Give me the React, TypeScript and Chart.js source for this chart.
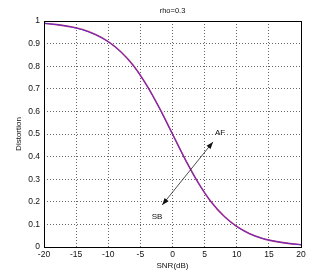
import { useEffect, useRef } from "react";
import { Chart, registerables } from "chart.js";

Chart.register(...registerables);

const titleText = "rho=0.3";
const xTitle = "SNR(dB)";
const yTitle = "Distortion";

const snrDb = [-20, -18, -16, -14, -12, -10, -8, -6, -4, -2, 0, 2, 4, 6, 8, 10, 12, 14, 16, 18, 20];
const distortionAF = [0.99, 0.984, 0.975, 0.962, 0.94, 0.909, 0.863, 0.8, 0.715, 0.613, 0.5, 0.387, 0.285, 0.2, 0.137, 0.091, 0.059, 0.038, 0.025, 0.016, 0.01];
const distortionSB = [0.99, 0.984, 0.975, 0.961, 0.94, 0.908, 0.862, 0.799, 0.714, 0.612, 0.499, 0.386, 0.284, 0.2, 0.136, 0.09, 0.059, 0.038, 0.025, 0.016, 0.01];

const xTicks = [-20, -15, -10, -5, 0, 5, 10, 15, 20];
const yTicks = [0, 0.1, 0.2, 0.3, 0.4, 0.5, 0.6, 0.7, 0.8, 0.9, 1];

// annotation arrow (data coords) and labels
const arrowFrom = [-1.6, 0.186];
const arrowTo = [6.3, 0.465];
const labelAF = { text: "AF", x: 7.4, y: 0.505 };
const labelSB = { text: "SB", x: -2.4, y: 0.135 };

const FONT = "'Liberation Sans', Arial, sans-serif";

function drawHead(ctx: CanvasRenderingContext2D, x1: number, y1: number, x2: number, y2: number) {
  const ang = Math.atan2(y2 - y1, x2 - x1);
  const len = 7;
  const w = 2.6;
  ctx.beginPath();
  ctx.moveTo(x2, y2);
  ctx.lineTo(x2 - len * Math.cos(ang) + w * Math.sin(ang), y2 - len * Math.sin(ang) - w * Math.cos(ang));
  ctx.lineTo(x2 - len * Math.cos(ang) - w * Math.sin(ang), y2 - len * Math.sin(ang) + w * Math.cos(ang));
  ctx.closePath();
  ctx.fill();
}

const overlay = {
  id: "overlay",
  afterDraw(chart: any) {
    const { ctx, chartArea: a, scales } = chart;
    const xs = scales.x;
    const ys = scales.y;
    ctx.save();
    // box
    ctx.strokeStyle = "#000";
    ctx.lineWidth = 1;
    ctx.setLineDash([]);
    ctx.strokeRect(Math.round(a.left) + 0.5, Math.round(a.top) + 0.5, Math.round(a.width), Math.round(a.height));
    // arrow
    const x1 = xs.getPixelForValue(arrowFrom[0]);
    const y1 = ys.getPixelForValue(arrowFrom[1]);
    const x2 = xs.getPixelForValue(arrowTo[0]);
    const y2 = ys.getPixelForValue(arrowTo[1]);
    ctx.strokeStyle = "#222";
    ctx.fillStyle = "#111";
    ctx.lineWidth = 0.8;
    ctx.beginPath();
    ctx.moveTo(x1, y1);
    ctx.lineTo(x2, y2);
    ctx.stroke();
    drawHead(ctx, x1, y1, x2, y2);
    drawHead(ctx, x2, y2, x1, y1);
    // labels
    ctx.fillStyle = "#111";
    ctx.font = `8px ${FONT}`;
    ctx.textAlign = "center";
    ctx.textBaseline = "middle";
    for (const l of [labelAF, labelSB]) {
      ctx.fillText(l.text, xs.getPixelForValue(l.x), ys.getPixelForValue(l.y));
    }
    // title
    ctx.font = `7.5px ${FONT}`;
    ctx.fillText(titleText, (a.left + a.right) / 2, 11);
    // axis titles
    ctx.font = `8px ${FONT}`;
    ctx.fillText(xTitle, (a.left + a.right) / 2, 266);
    ctx.save();
    ctx.translate(19, (a.top + a.bottom) / 2);
    ctx.rotate(-Math.PI / 2);
    ctx.fillText(yTitle, 0, 0);
    ctx.restore();
    ctx.restore();
  },
};

export default function App() {
  const ref = useRef<HTMLCanvasElement>(null);
  useEffect(() => {
    document.body.style.margin = "0";
    const chart = new Chart(ref.current!, {
      type: "line",
      data: {
        datasets: [
          {
            label: "AF",
            data: snrDb.map((x, i) => ({ x, y: distortionAF[i] })),
            borderColor: "#d0306a",
            borderWidth: 1.6,
            pointRadius: 0,
            cubicInterpolationMode: "monotone",
            order: 2,
          },
          {
            label: "SB",
            data: snrDb.map((x, i) => ({ x, y: distortionSB[i] })),
            borderColor: "#5a2fc8",
            borderWidth: 1,
            pointRadius: 0,
            cubicInterpolationMode: "monotone",
            order: 1,
          },
        ],
      },
      options: {
        animation: false,
        responsive: false,
        devicePixelRatio: 1,
        layout: { padding: { left: 0, right: 31, top: 21, bottom: 0 } },
        plugins: { legend: { display: false }, title: { display: false }, tooltip: { enabled: false } },
        scales: {
          x: {
            type: "linear",
            min: -20,
            max: 20,
            afterBuildTicks: (s: any) => {
              s.ticks = xTicks.map((v) => ({ value: v }));
            },
            afterFit: (s: any) => {
              s.height = 30;
            },
            ticks: {
              color: "#111",
              font: { family: FONT, size: 8.5 },
              padding: 3,
              maxRotation: 0,
              autoSkip: false,
              callback: (v: any) => String(v),
            },
            grid: { color: "#666", drawTicks: false, lineWidth: 1 },
            border: { display: false, dash: [1, 2] },
          },
          y: {
            type: "linear",
            min: 0,
            max: 1,
            afterBuildTicks: (s: any) => {
              s.ticks = yTicks.map((v) => ({ value: v }));
            },
            afterFit: (s: any) => {
              s.width = 44;
            },
            ticks: {
              color: "#111",
              font: { family: FONT, size: 8.5 },
              padding: 4,
              autoSkip: false,
              callback: (v: any) => String(Number(Number(v).toFixed(1))),
            },
            grid: { color: "#666", drawTicks: false, lineWidth: 1 },
            border: { display: false, dash: [1, 2] },
          },
        },
      },
      plugins: [overlay],
    } as any);
    return () => chart.destroy();
  }, []);
  return (
    <div style={{ width: 332, height: 277, background: "#fff" }}>
      <canvas ref={ref} width={332} height={277} />
    </div>
  );
}
